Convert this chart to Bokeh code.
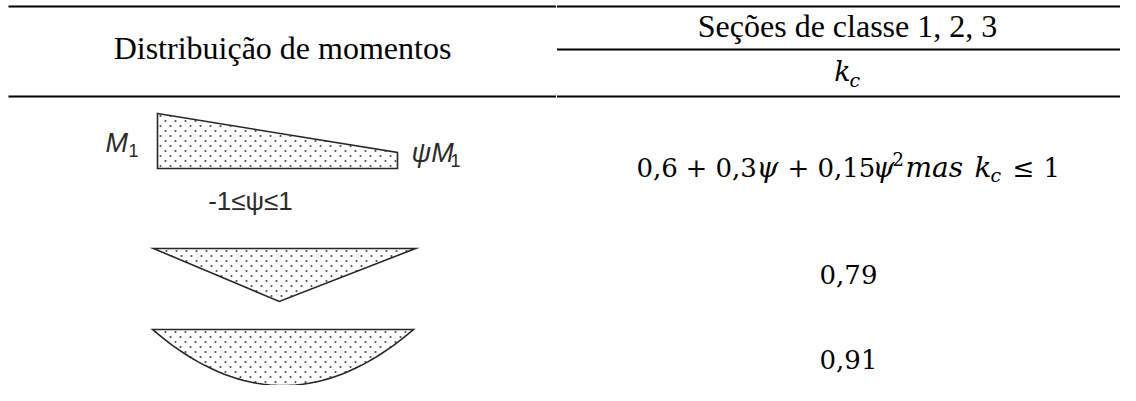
import numpy as np
from bokeh.plotting import figure
from bokeh.models import Range1d
from bokeh.core.properties import value
from bokeh.embed import file_html
from bokeh.resources import INLINE

# ---------------- data ----------------
column_titles = ["Distribuição de momentos", "Seções de classe 1, 2, 3"]
coef_symbol = ["k", "c"]                      # k_c (main, subscript)
psi_range_label = "-1≤ψ≤1"
end_moment_labels = ["M", "ψM"]               # with subscript "1"
moment_subscript = "1"
kc_constant_values = ["0,79", "0,91"]
# formula 0,6 + 0,3ψ + 0,15ψ² mas k_c ≤ 1
formula_coefs = ["0,6", "0,3", "0,15"]
formula_limit = "1"

# bending-moment diagrams: positions along beam (0..1) and ordinates (0..1)
psi_example = 0.29
diag_linear_t = [0.0, 1.0]
diag_linear_m = [1.0, psi_example]
diag_point_t = [0.0, 0.48, 1.0]
diag_point_m = [0.0, 1.0, 0.0]
diag_udl_t = list(np.linspace(0, 1, 41))
diag_udl_m = [4 * t * (1 - t) for t in diag_udl_t]

# ---------------- figure ----------------
W, H = 1120, 385
p = figure(width=W, height=H, output_backend="svg", toolbar_location=None,
           x_range=Range1d(0, W), y_range=Range1d(H, 0),
           min_border=0, background_fill_color="white", border_fill_color="white")
p.axis.visible = False
p.grid.visible = False
p.outline_line_color = None

# table rules
X0, XM, X1 = 8, 556, 1136
for (xa, xb, y) in [(X0, XM - 0.5, 6), (XM + 0.5, X1, 6), (XM + 0.5, X1, 49),
                    (X0, XM - 0.5, 96), (XM + 0.5, X1, 96)]:
    p.line([xa, xb], [y, y], line_color="black", line_width=2)

serif = value("Liberation Serif")
math = value("DejaVu Serif")
sans = value("Liberation Sans")

colL = (X0 + XM) / 2
colR = 847


def txt(x, y, s, font, size, style="normal", align="center", color="black"):
    p.text(x=[x], y=[y], text=[s], text_font=font, text_font_style=style,
           text_font_size=f"{size}px", text_align=align, text_baseline="middle",
           text_color=color)


txt(colL, 47, column_titles[0], serif, 32)
txt(colR, 25, column_titles[1], serif, 32)
# k_c header
txt(colR - 5, 71, coef_symbol[0], math, 27, "italic")
txt(colR + 2, 79, coef_symbol[1], math, 19, "italic", "left")

# ---- diagrams ----
def dots_in(poly, dx=10.0, dy=5.0, pad=1.5):
    xs = np.array([q[0] for q in poly]); ys = np.array([q[1] for q in poly])
    gy = np.arange(ys.min() + pad + 1, ys.max() - pad, dy)
    px, py = [], []
    for k, yy in enumerate(gy):
        off = (dx / 2) * (k % 2)
        gx = np.arange(xs.min() + 3 + off, xs.max() - pad, dx)
        px.extend(gx); py.extend([yy] * len(gx))
    px = np.array(px); py = np.array(py)
    res = np.zeros(px.shape, bool)
    n = len(poly); j = n - 1
    for i in range(n):
        c = ((ys[i] > py) != (ys[j] > py)) & \
            (px < (xs[j] - xs[i]) * (py - ys[i]) / (ys[j] - ys[i] + 1e-12) + xs[i])
        res ^= c
        j = i
    return px[res], py[res]


def draw_diagram(t, m, xa, xb, base, scale, direction):
    xs = [xa + (xb - xa) * ti for ti in t]
    ys = [base + direction * scale * mi for mi in m]
    poly = list(zip(xs, ys))
    if m[0] != 0 or m[-1] != 0:
        poly = poly + [(xb, base), (xa, base)]
    px, py = dots_in(poly)
    p.patch([q[0] for q in poly], [q[1] for q in poly], fill_color="white", line_color=None)
    p.scatter(px, py, size=2.1, marker="circle", fill_color="#4a4a4a", line_color=None)
    p.patch([q[0] for q in poly], [q[1] for q in poly], fill_color=None,
            line_color="#262626", line_width=1.6, line_join="miter")


draw_diagram(diag_linear_t, diag_linear_m, 157, 397, 168, 55, -1)
draw_diagram(diag_point_t, diag_point_m, 153, 415, 248, 53, +1)
draw_diagram(diag_udl_t, diag_udl_m, 152, 413, 329, 56, +1)

lab = "#2b2b2b"
# M1 left
txt(105, 142, end_moment_labels[0], sans, 27, "italic", "left", lab)
txt(128, 150, moment_subscript, sans, 18, "normal", "left", lab)
# psi M1 right
txt(411, 152, end_moment_labels[1], sans, 27, "italic", "left", lab)
txt(450, 160, moment_subscript, sans, 18, "normal", "left", lab)
# -1<=psi<=1
txt(250, 200, psi_range_label, sans, 26, "normal", "center", lab)

# ---- k_c values ----
fy = 167
pieces = [
    (formula_coefs[0], 636, "normal", 26, 0, "left"),
    ("+", 696, "normal", 26, 0, "center"),
    (formula_coefs[1], 715, "normal", 26, 0, "left"),
    ("ψ", 756, "italic", 28, 0, "left"),
    ("+", 798, "normal", 26, 0, "center"),
    (formula_coefs[2], 817, "normal", 26, 0, "left"),
    ("ψ", 872, "italic", 28, 0, "left"),
    ("2", 892, "normal", 18, -9, "left"),
    ("mas", 905, "italic", 28, 0, "left"),
    (coef_symbol[0], 974, "italic", 28, 0, "left"),
    (coef_symbol[1], 990, "italic", 19, 7, "left"),
    ("≤", 1023, "normal", 26, 0, "center"),
    (formula_limit, 1043, "normal", 26, 0, "left"),
]
for s, x, style, fs, dyy, al in pieces:
    txt(x, fy + dyy, s, math, fs, style, al)

for val, yc in zip(kc_constant_values, [274, 359]):
    txt(colR + 1, yc, val, math, 26)

open("out.html", "w").write(file_html(p, INLINE))
